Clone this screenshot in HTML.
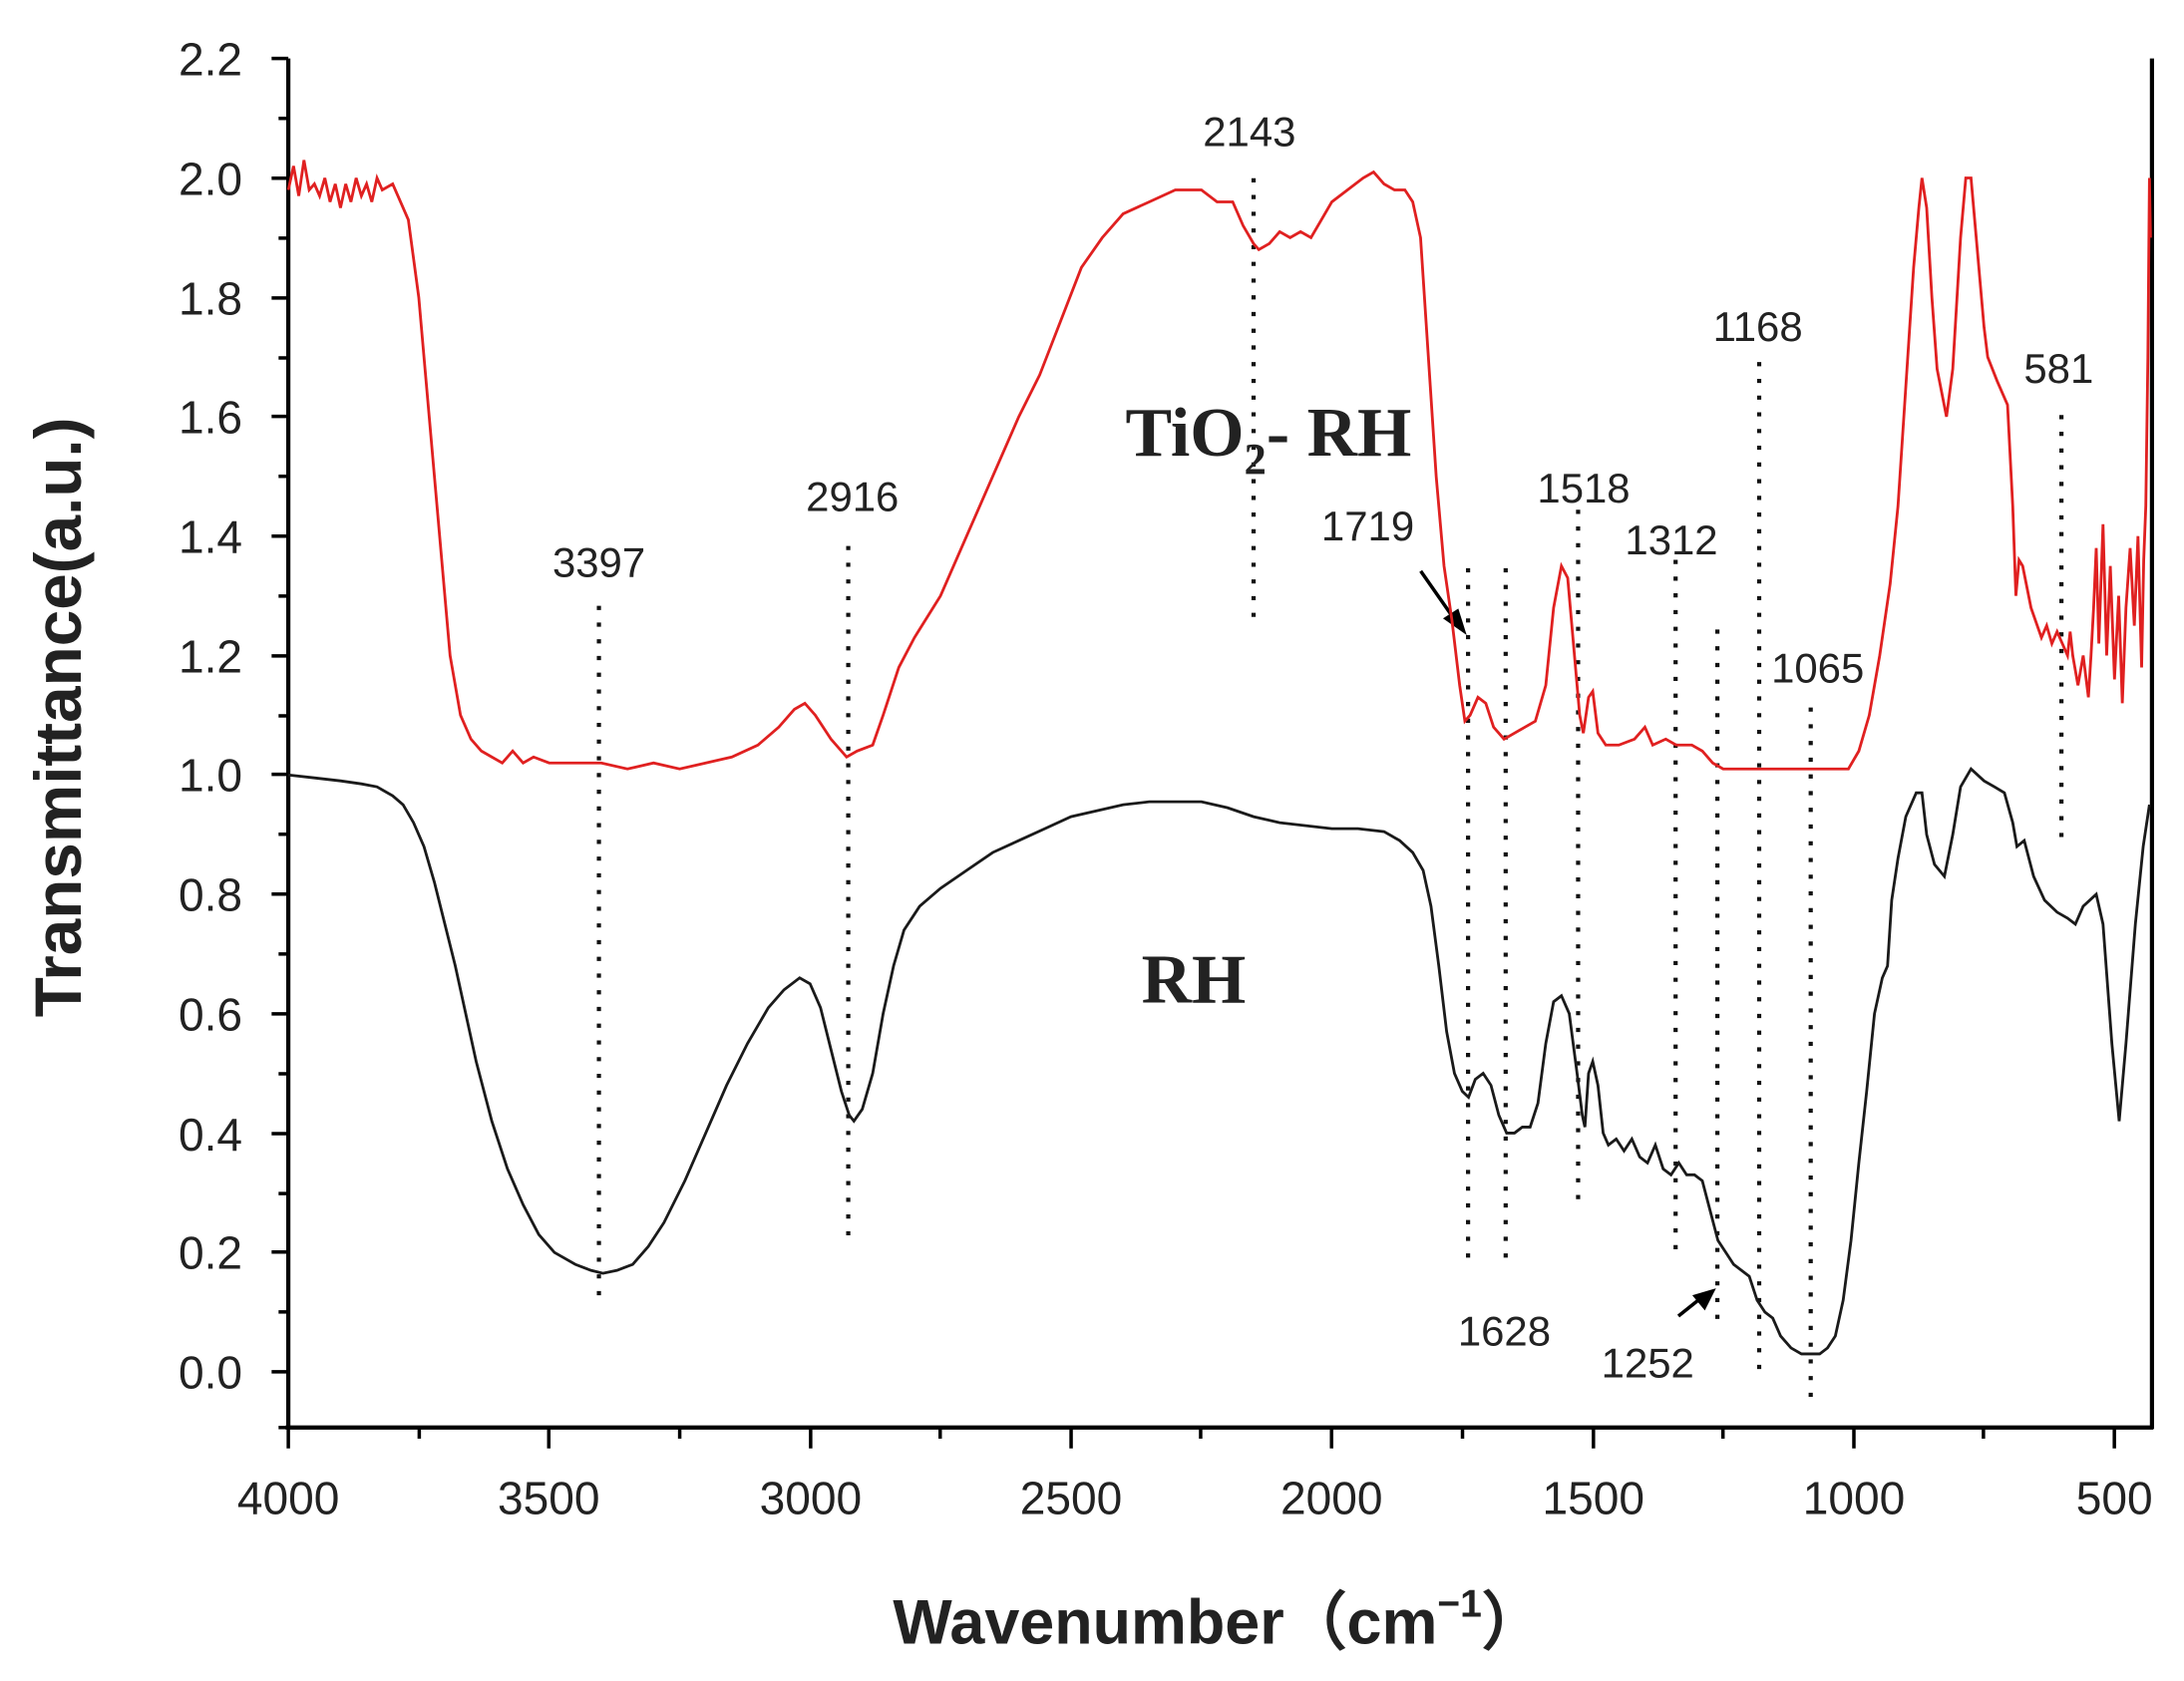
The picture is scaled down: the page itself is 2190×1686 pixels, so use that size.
<!DOCTYPE html>
<html><head><meta charset="utf-8"><style>
html,body{margin:0;padding:0;background:#fff;}
svg{display:block;}
text{font-family:"Liberation Sans",Arial,sans-serif;fill:#222;}
</style></head><body>
<svg width="2190" height="1686" viewBox="0 0 1568 1207" preserveAspectRatio="none" xmlns="http://www.w3.org/2000/svg">
<rect width="1568" height="1207" fill="#fff"/>
<g stroke="#000" stroke-width="3" fill="none">
<line x1="207" y1="42" x2="207" y2="1026"/>
<line x1="205" y1="1025" x2="1546" y2="1025"/>
<line x1="1545" y1="42" x2="1545" y2="1026"/>
</g>
<g stroke="#000" stroke-width="2.5">
<line x1="195" y1="42" x2="207" y2="42"/><line x1="195" y1="128" x2="207" y2="128"/>
<line x1="195" y1="214" x2="207" y2="214"/><line x1="195" y1="299" x2="207" y2="299"/>
<line x1="195" y1="385" x2="207" y2="385"/><line x1="195" y1="471" x2="207" y2="471"/>
<line x1="195" y1="556" x2="207" y2="556"/><line x1="195" y1="642" x2="207" y2="642"/>
<line x1="195" y1="728" x2="207" y2="728"/><line x1="195" y1="814" x2="207" y2="814"/>
<line x1="195" y1="899" x2="207" y2="899"/><line x1="195" y1="985" x2="207" y2="985"/>
<line x1="200" y1="85" x2="207" y2="85"/><line x1="200" y1="171" x2="207" y2="171"/>
<line x1="200" y1="257" x2="207" y2="257"/><line x1="200" y1="342" x2="207" y2="342"/>
<line x1="200" y1="428" x2="207" y2="428"/><line x1="200" y1="514" x2="207" y2="514"/>
<line x1="200" y1="599" x2="207" y2="599"/><line x1="200" y1="685" x2="207" y2="685"/>
<line x1="200" y1="771" x2="207" y2="771"/><line x1="200" y1="857" x2="207" y2="857"/>
<line x1="200" y1="942" x2="207" y2="942"/><line x1="200" y1="1025" x2="207" y2="1025"/>
<line x1="207" y1="1025" x2="207" y2="1040"/><line x1="394" y1="1025" x2="394" y2="1040"/>
<line x1="582" y1="1025" x2="582" y2="1040"/><line x1="769" y1="1025" x2="769" y2="1040"/>
<line x1="956" y1="1025" x2="956" y2="1040"/><line x1="1144" y1="1025" x2="1144" y2="1040"/>
<line x1="1331" y1="1025" x2="1331" y2="1040"/><line x1="1518" y1="1025" x2="1518" y2="1040"/>
<line x1="301" y1="1025" x2="301" y2="1033"/><line x1="488" y1="1025" x2="488" y2="1033"/>
<line x1="675" y1="1025" x2="675" y2="1033"/><line x1="862" y1="1025" x2="862" y2="1033"/>
<line x1="1050" y1="1025" x2="1050" y2="1033"/><line x1="1237" y1="1025" x2="1237" y2="1033"/>
<line x1="1424" y1="1025" x2="1424" y2="1033"/>
</g>
<g font-size="33" text-anchor="end">
<text x="174" y="54">2.2</text><text x="174" y="140">2.0</text><text x="174" y="226">1.8</text>
<text x="174" y="311">1.6</text><text x="174" y="397">1.4</text><text x="174" y="483">1.2</text>
<text x="174" y="568">1.0</text><text x="174" y="654">0.8</text><text x="174" y="740">0.6</text>
<text x="174" y="826">0.4</text><text x="174" y="911">0.2</text><text x="174" y="997">0.0</text>
</g>
<g font-size="33" text-anchor="middle">
<text x="207" y="1087">4000</text><text x="394" y="1087">3500</text><text x="582" y="1087">3000</text>
<text x="769" y="1087">2500</text><text x="956" y="1087">2000</text><text x="1144" y="1087">1500</text>
<text x="1331" y="1087">1000</text><text x="1518" y="1087">500</text>
</g>
<text x="875" y="1180" font-size="45" font-weight="bold" text-anchor="middle">Wavenumber（cm<tspan font-size="28" dy="-19">−1</tspan><tspan dy="19">）</tspan></text>
<text transform="translate(58,515) rotate(-90)" font-size="47" font-weight="bold" text-anchor="middle">Transmittance(a.u.)</text>
<g stroke="#111" stroke-width="3" stroke-dasharray="3,9">
<line x1="430" y1="435" x2="430" y2="935"/>
<line x1="609" y1="392" x2="609" y2="893"/>
<line x1="900" y1="128" x2="900" y2="450"/>
<line x1="1054" y1="408" x2="1054" y2="912"/>
<line x1="1081" y1="408" x2="1081" y2="908"/>
<line x1="1133" y1="366" x2="1133" y2="870"/>
<line x1="1203" y1="402" x2="1203" y2="906"/>
<line x1="1233" y1="452" x2="1233" y2="950"/>
<line x1="1263" y1="260" x2="1263" y2="990"/>
<line x1="1300" y1="508" x2="1300" y2="1010"/>
<line x1="1480" y1="298" x2="1480" y2="605"/>
</g>
<g font-size="30" text-anchor="middle">
<text x="430" y="414">3397</text><text x="612" y="367">2916</text><text x="897" y="105">2143</text>
<text x="982" y="388">1719</text><text x="1137" y="361">1518</text><text x="1200" y="398">1312</text>
<text x="1262" y="245">1168</text><text x="1305" y="490">1065</text><text x="1478" y="275">581</text>
<text x="1080" y="966">1628</text><text x="1183" y="989">1252</text>
</g>
<g stroke="#000" stroke-width="2.5">
<line x1="1020" y1="410" x2="1043" y2="443"/>
<line x1="1205" y1="945" x2="1220" y2="933"/>
</g>
<polygon points="1053,456 1036,444 1047,437" fill="#000"/>
<polygon points="1232,925 1224,941 1215,930" fill="#000"/>
<text x="808" y="327" font-size="50" font-weight="bold" style="font-family:'Liberation Serif',serif">TiO<tspan font-size="32" dy="13">2</tspan><tspan dy="-13">- RH</tspan></text>
<text x="857" y="720" font-size="50" font-weight="bold" text-anchor="middle" style="font-family:'Liberation Serif',serif">RH</text>
<g transform="matrix(-0.3746 0 0 -428.6 1705.4 985)" fill="none">
<polyline vector-effect="non-scaling-stroke" stroke="#e02020" stroke-width="2.8" points="4000,1.98 3990,2.02 3980,1.97 3970,2.03 3960,1.98 3950,1.99 3940,1.97 3930,2.0 3920,1.96 3910,1.99 3900,1.95 3890,1.99 3880,1.96 3870,2.0 3860,1.97 3850,1.99 3840,1.96 3830,2.0 3820,1.98 3800,1.99 3790,1.97 3770,1.93 3750,1.8 3730,1.6 3710,1.4 3690,1.2 3670,1.1 3650,1.06 3630,1.04 3610,1.03 3590,1.02 3570,1.04 3550,1.02 3530,1.03 3500,1.02 3450,1.02 3400,1.02 3350,1.01 3300,1.02 3250,1.01 3200,1.02 3150,1.03 3100,1.05 3060,1.08 3030,1.11 3010,1.12 2990,1.1 2960,1.06 2930,1.03 2910,1.04 2880,1.05 2860,1.1 2830,1.18 2800,1.23 2750,1.3 2700,1.4 2650,1.5 2600,1.6 2560,1.67 2520,1.76 2480,1.85 2440,1.9 2400,1.94 2350,1.96 2300,1.98 2250,1.98 2220,1.96 2190,1.96 2170,1.92 2150,1.89 2140,1.88 2120,1.89 2100,1.91 2080,1.9 2060,1.91 2040,1.9 2020,1.93 2000,1.96 1970,1.98 1940,2.0 1920,2.01 1900,1.99 1880,1.98 1860,1.98 1845,1.96 1830,1.9 1815,1.7 1800,1.5 1785,1.35 1770,1.26 1755,1.15 1745,1.09 1735,1.1 1720,1.13 1705,1.12 1690,1.08 1670,1.06 1650,1.07 1630,1.08 1610,1.09 1590,1.15 1575,1.28 1560,1.35 1548,1.33 1535,1.2 1525,1.1 1518,1.07 1508,1.13 1500,1.14 1490,1.07 1475,1.05 1450,1.05 1420,1.06 1400,1.08 1385,1.05 1360,1.06 1340,1.05 1310,1.05 1290,1.04 1270,1.02 1250,1.01 1200,1.01 1150,1.01 1100,1.01 1050,1.01 1010,1.01 990,1.04 970,1.1 950,1.2 930,1.32 915,1.45 900,1.65 885,1.85 875,1.95 869,2.0 860,1.95 850,1.8 840,1.68 822,1.6 810,1.68 795,1.9 785,2.0 775,2.0 765,1.9 750,1.75 743,1.7 725,1.66 705,1.62 695,1.45 689,1.3 683,1.36 676,1.35 660,1.28 640,1.23 630,1.25 620,1.22 610,1.24 600,1.22 590,1.2 585,1.24 580,1.2 570,1.15 560,1.2 550,1.13 545,1.2 540,1.28 535,1.38 530,1.22 522,1.42 515,1.2 508,1.35 500,1.16 492,1.3 485,1.12 478,1.28 470,1.38 462,1.25 455,1.4 448,1.18 444,1.36 440,1.45 436,1.7 433,2.0 431,1.9"/>
<polyline vector-effect="non-scaling-stroke" stroke="#1a1a1a" stroke-width="2.8" points="4000,1.0 3950,0.995 3900,0.99 3860,0.985 3830,0.98 3800,0.965 3780,0.95 3760,0.92 3740,0.88 3720,0.82 3700,0.75 3680,0.68 3660,0.6 3640,0.52 3610,0.42 3580,0.34 3550,0.28 3520,0.23 3490,0.2 3450,0.18 3420,0.17 3397,0.165 3370,0.17 3340,0.18 3310,0.21 3280,0.25 3240,0.32 3200,0.4 3160,0.48 3120,0.55 3080,0.61 3050,0.64 3020,0.66 3000,0.65 2980,0.61 2960,0.54 2940,0.47 2925,0.43 2916,0.42 2900,0.44 2880,0.5 2860,0.6 2840,0.68 2820,0.74 2790,0.78 2750,0.81 2700,0.84 2650,0.87 2600,0.89 2550,0.91 2500,0.93 2450,0.94 2400,0.95 2350,0.955 2300,0.955 2250,0.955 2200,0.945 2150,0.93 2100,0.92 2050,0.915 2000,0.91 1950,0.91 1900,0.905 1870,0.89 1845,0.87 1825,0.84 1810,0.78 1795,0.68 1780,0.57 1765,0.5 1750,0.47 1738,0.46 1725,0.49 1710,0.5 1695,0.48 1680,0.43 1665,0.4 1650,0.4 1635,0.41 1620,0.41 1605,0.45 1590,0.55 1575,0.62 1560,0.63 1545,0.6 1530,0.5 1520,0.43 1515,0.41 1508,0.5 1500,0.52 1490,0.48 1480,0.4 1470,0.38 1455,0.39 1440,0.37 1425,0.39 1410,0.36 1395,0.35 1380,0.38 1365,0.34 1350,0.33 1335,0.35 1320,0.33 1305,0.33 1290,0.32 1275,0.27 1260,0.22 1245,0.2 1230,0.18 1215,0.17 1200,0.16 1185,0.12 1170,0.1 1155,0.09 1140,0.06 1120,0.04 1100,0.03 1080,0.03 1065,0.03 1050,0.04 1035,0.06 1020,0.12 1005,0.22 990,0.35 975,0.47 960,0.6 945,0.66 935,0.68 927,0.79 915,0.86 900,0.93 880,0.97 869,0.97 860,0.9 845,0.85 826,0.83 810,0.9 795,0.98 775,1.01 750,0.99 730,0.98 711,0.97 695,0.92 687,0.88 673,0.89 655,0.83 634,0.79 610,0.77 590,0.76 575,0.75 560,0.78 535,0.8 522,0.75 505,0.55 491,0.42 478,0.55 460,0.75 445,0.88 433,0.95"/>
</g>
</svg>
</body></html>
